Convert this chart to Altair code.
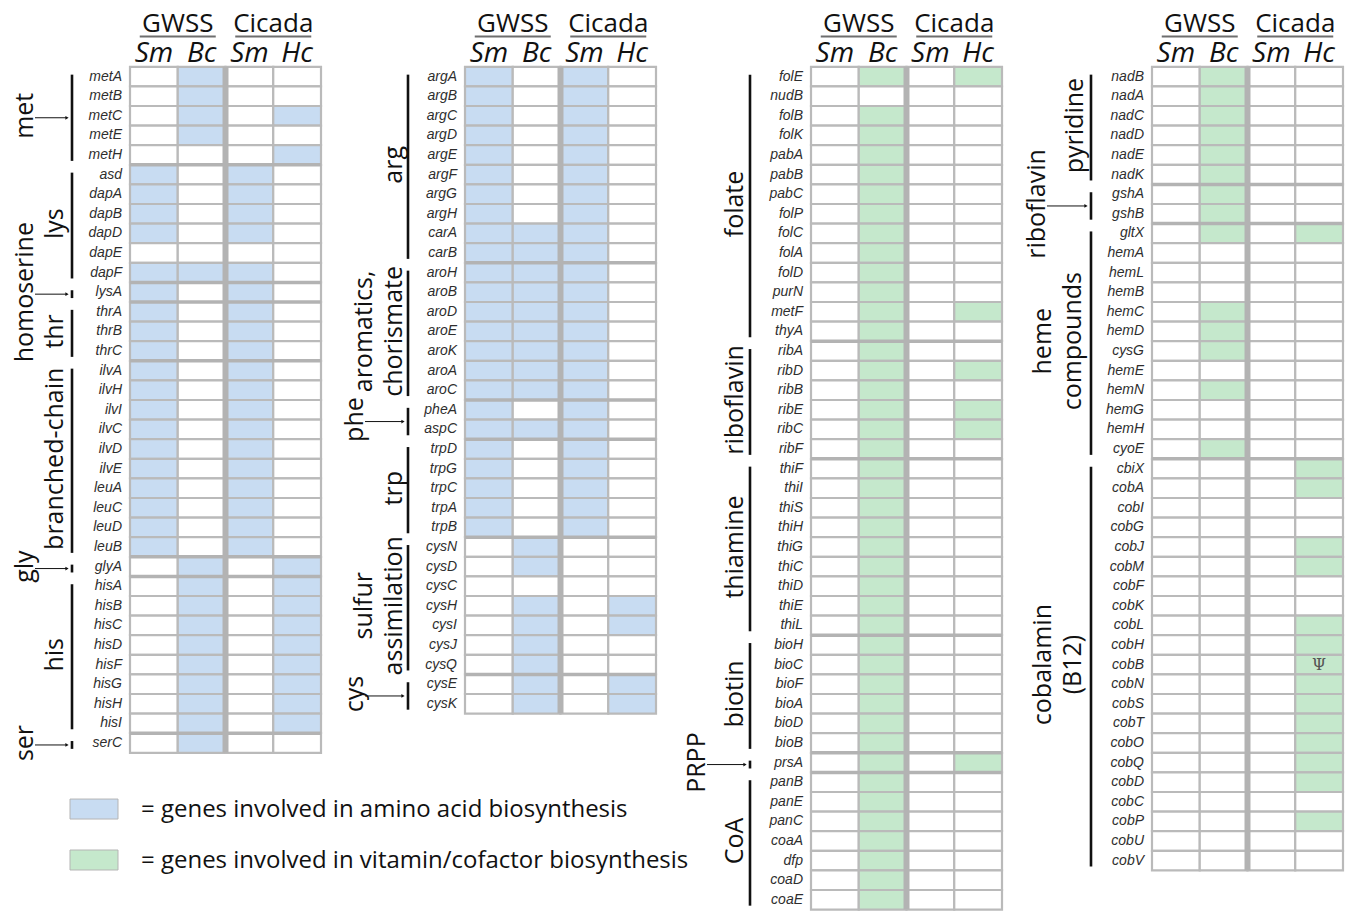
import altair as alt
import pandas as pd

# ---------------- data ----------------
species = ["GWSS", "Cicada"]
sub_labels = ["Sm", "Bc", "Sm", "Hc"]

# panel 1 : amino acids
p1_genes = ["metA", "metB", "metC", "metE", "metH", "asd", "dapA", "dapB", "dapD", "dapE",
            "dapF", "lysA", "thrA", "thrB", "thrC", "ilvA", "ilvH", "ilvI", "ilvC", "ilvD",
            "ilvE", "leuA", "leuC", "leuD", "leuB", "glyA", "hisA", "hisB", "hisC", "hisD",
            "hisF", "hisG", "hisH", "hisI", "serC"]
p1_presence = ["0100", "0100", "0101", "0100", "0001", "1010", "1010", "1010", "1010", "0000",
               "1110", "1010", "1010", "1010", "1010", "1010", "1010", "1010", "1010", "1010",
               "1010", "1010", "1010", "1010", "1010", "0101", "0101", "0101", "0101", "0101",
               "0101", "0101", "0101", "0101", "0100"]
p1_group_labels = [["met"], ["lys"], ["homoserine"], ["thr"], ["branched-chain"], ["gly"], ["his"], ["ser"]]
p1_group_sizes = [5, 6, 1, 3, 10, 1, 8, 1]
p1_group_arrow = [True, False, True, False, False, True, False, True]

# panel 2 : amino acids
p2_genes = ["argA", "argB", "argC", "argD", "argE", "argF", "argG", "argH", "carA", "carB",
            "aroH", "aroB", "aroD", "aroE", "aroK", "aroA", "aroC", "pheA", "aspC", "trpD",
            "trpG", "trpC", "trpA", "trpB", "cysN", "cysD", "cysC", "cysH", "cysI", "cysJ",
            "cysQ", "cysE", "cysK"]
p2_presence = ["1010", "1010", "1010", "1010", "1010", "1010", "1010", "1010", "1110", "1110",
               "1110", "1110", "1110", "1110", "1110", "1110", "1110", "1010", "1110", "1010",
               "1010", "1010", "1010", "1010", "0100", "0100", "0000", "0101", "0101", "0100",
               "0100", "0101", "0101"]
p2_group_labels = [["arg"], ["aromatics,", "chorismate"], ["phe"], ["trp"], ["sulfur", "assimilation"], ["cys"]]
p2_group_sizes = [10, 7, 2, 5, 7, 2]
p2_group_arrow = [False, False, True, False, False, True]

# panel 3 : vitamins / cofactors
p3_genes = ["folE", "nudB", "folB", "folK", "pabA", "pabB", "pabC", "folP", "folC", "folA",
            "folD", "purN", "metF", "thyA", "ribA", "ribD", "ribB", "ribE", "ribC", "ribF",
            "thiF", "thiI", "thiS", "thiH", "thiG", "thiC", "thiD", "thiE", "thiL", "bioH",
            "bioC", "bioF", "bioA", "bioD", "bioB", "prsA", "panB", "panE", "panC", "coaA",
            "dfp", "coaD", "coaE"]
p3_presence = ["0101", "0000", "0100", "0100", "0100", "0100", "0100", "0100", "0100", "0100",
               "0100", "0100", "0101", "0100", "0100", "0101", "0100", "0101", "0101", "0100",
               "0100", "0100", "0100", "0100", "0100", "0100", "0100", "0100", "0100", "0100",
               "0100", "0100", "0100", "0100", "0100", "0101", "0100", "0100", "0100", "0100",
               "0100", "0100", "0100"]
p3_group_labels = [["folate"], ["riboflavin"], ["thiamine"], ["biotin"], ["PRPP"], ["CoA"]]
p3_group_sizes = [14, 6, 9, 6, 1, 7]
p3_group_arrow = [False, False, False, False, True, False]

# panel 4 : vitamins / cofactors
p4_genes = ["nadB", "nadA", "nadC", "nadD", "nadE", "nadK", "gshA", "gshB", "gltX", "hemA",
            "hemL", "hemB", "hemC", "hemD", "cysG", "hemE", "hemN", "hemG", "hemH", "cyoE",
            "cbiX", "cobA", "cobI", "cobG", "cobJ", "cobM", "cobF", "cobK", "cobL", "cobH",
            "cobB", "cobN", "cobS", "cobT", "cobO", "cobQ", "cobD", "cobC", "cobP", "cobU",
            "cobV"]
p4_presence = ["0100", "0100", "0100", "0100", "0100", "0100", "0100", "0100", "0101", "0000",
               "0000", "0000", "0100", "0100", "0100", "0000", "0100", "0000", "0000", "0100",
               "0001", "0001", "0000", "0000", "0001", "0001", "0000", "0000", "0001", "0001",
               "0001", "0001", "0001", "0001", "0001", "0001", "0001", "0000", "0001", "0000",
               "0000"]
p4_group_labels = [["pyridine"], ["riboflavin"], ["heme", "compounds"], ["cobalamin", "(B12)"]]
p4_group_sizes = [6, 2, 12, 21]
p4_group_arrow = [False, True, False, False]
p4_notes = [("cobB", 3, "\u03a8")]

legend_kinds = ["amino", "vitamin"]
legend_texts = ["= genes involved in amino acid biosynthesis",
                "= genes involved in vitamin/cofactor biosynthesis"]

# ---------------- layout / style ----------------
COLW = 191 / 4.0
Y_DOMAIN = [-3, 43]
HEIGHT = 46 * 19.6
FILL_DOMAIN = ["none", "amino", "vitamin"]
FILL_RANGE = ["#ffffff", "#c8dcf2", "#c5e8cc"]
GRID = "#bababa"
SEP = "#b3b3b3"
LABEL_FONT = "Open Sans"

panels = [
    dict(genes=p1_genes, presence=p1_presence, labels=p1_group_labels, sizes=p1_group_sizes,
         arrow=p1_group_arrow, kind="amino", L=122, W=332, bx=-58, side=[-75], side2=[-104, -75],
         arrowx=-105, notes=[], legend=True),
    dict(genes=p2_genes, presence=p2_presence, labels=p2_group_labels, sizes=p2_group_sizes,
         arrow=p2_group_arrow, kind="amino", L=125, W=340, bx=-57, side=[-71], side2=[-101, -71],
         arrowx=-110, notes=[], legend=False),
    dict(genes=p3_genes, presence=p3_presence, labels=p3_group_labels, sizes=p3_group_sizes,
         arrow=p3_group_arrow, kind="vitamin", L=131, W=335, bx=-61, side=[-76], side2=[-106, -76],
         arrowx=-114, notes=[], legend=False),
    dict(genes=p4_genes, presence=p4_presence, labels=p4_group_labels, sizes=p4_group_sizes,
         arrow=p4_group_arrow, kind="vitamin", L=137, W=330, bx=-61, side=[-77], side2=[-109, -79],
         arrowx=-115, notes=p4_notes, legend=False),
]


def make_panel(p):
    xs = alt.Scale(domain=[-p["L"], p["W"] - p["L"]], nice=False, zero=False)
    ys = alt.Scale(domain=Y_DOMAIN, reverse=True, nice=False, zero=False)

    def X(f):
        return alt.X(f, type="quantitative", scale=xs, axis=None)

    def Y(f):
        return alt.Y(f, type="quantitative", scale=ys, axis=None)

    n = len(p["genes"])
    # cells
    cell_rows = []
    for r, (g, pres) in enumerate(zip(p["genes"], p["presence"])):
        for c, ch in enumerate(pres):
            cell_rows.append(dict(gene=g, x0=c * COLW, x1=(c + 1) * COLW, y0=r, y1=r + 1,
                                  kind=p["kind"] if ch == "1" else "none"))
    cells = alt.Chart(pd.DataFrame(cell_rows)).mark_rect(stroke=GRID, strokeWidth=2.2).encode(
        x=X("x0"), x2=alt.X2("x1"), y=Y("y0"), y2=alt.Y2("y1"),
        fill=alt.Fill("kind:N", scale=alt.Scale(domain=FILL_DOMAIN, range=FILL_RANGE), legend=None))

    # gene labels
    gl = pd.DataFrame(dict(gene=p["genes"], x=[-8] * n, y=[r + 0.5 for r in range(n)]))
    gene_text = alt.Chart(gl).mark_text(align="right", baseline="middle", font="Liberation Sans",
                                        fontStyle="italic", fontSize=14, color="#2e2e2e").encode(
        x=X("x"), y=Y("y"), text="gene:N")

    # group boundaries, brackets, labels, arrows
    bounds, brackets, glabels, arrows = [], [], [], []
    start = 0
    for lab, size, arr in zip(p["labels"], p["sizes"], p["arrow"]):
        end = start + size
        if end < n:
            bounds.append(dict(x0=0, x1=4 * COLW, y=end))
        b0, b1 = start + 0.4, end - 0.2
        brackets.append(dict(x=p["bx"], y0=b0, y1=b1))
        mid = (start + end) / 2.0
        if arr:
            glabels.append(dict(x=p["arrowx"], y=mid, t=lab[0]))
            ay = (b0 + b1) / 2.0
            arrows.append(dict(x0=p["arrowx"] + 10, x1=p["bx"] - 5, y=ay))
        elif len(lab) == 1:
            glabels.append(dict(x=p["side"][0], y=mid, t=lab[0]))
        else:
            for li, t in enumerate(lab):
                glabels.append(dict(x=p["side2"][li], y=mid, t=t))
        start = end

    layers = [cells]
    if bounds:
        layers.append(alt.Chart(pd.DataFrame(bounds)).mark_rule(color=SEP, strokeWidth=3.5).encode(
            x=X("x0"), x2=alt.X2("x1"), y=Y("y")))
    sep = pd.DataFrame([dict(x=2 * COLW, y0=0, y1=n)])
    layers.append(alt.Chart(sep).mark_rule(color=SEP, strokeWidth=6).encode(
        x=X("x"), y=Y("y0"), y2=alt.Y2("y1")))
    layers.append(gene_text)
    layers.append(alt.Chart(pd.DataFrame(brackets)).mark_rule(color="#111111", strokeWidth=2.6).encode(
        x=X("x"), y=Y("y0"), y2=alt.Y2("y1")))
    layers.append(alt.Chart(pd.DataFrame(glabels)).mark_text(
        angle=270, align="center", baseline="middle", font=LABEL_FONT, fontSize=25,
        color="#111111").encode(x=X("x"), y=Y("y"), text="t:N"))
    if arrows:
        adf = pd.DataFrame(arrows)
        layers.append(alt.Chart(adf).mark_rule(color="#111111", strokeWidth=1).encode(
            x=X("x0"), x2=alt.X2("x1"), y=Y("y")))
        layers.append(alt.Chart(adf).mark_point(shape="triangle-right", filled=True, size=14,
                                                color="#111111", opacity=1).encode(
            x=X("x1"), y=Y("y")))

    # headers
    sp = pd.DataFrame(dict(t=species, x=[1 * COLW, 3 * COLW], y=[-1.8, -1.8]))
    layers.append(alt.Chart(sp).mark_text(align="center", baseline="alphabetic", font=LABEL_FONT,
                                          fontSize=26, color="#111111").encode(
        x=X("x"), y=Y("y"), text="t:N"))
    ul = pd.DataFrame(dict(ux0=[1 * COLW - 38, 3 * COLW - 38], ux1=[1 * COLW + 38, 3 * COLW + 38],
                           uy=[-1.55, -1.55]))
    layers.append(alt.Chart(ul).mark_rule(color="#6e6e6e", strokeWidth=2).encode(
        x=X("ux0"), x2=alt.X2("ux1"), y=Y("uy")))
    sub = pd.DataFrame(dict(t=sub_labels, x=[(c + 0.5) * COLW for c in range(4)], y=[-0.24] * 4))
    layers.append(alt.Chart(sub).mark_text(align="center", baseline="alphabetic", font=LABEL_FONT,
                                           fontStyle="italic", fontSize=28, color="#111111").encode(
        x=X("x"), y=Y("y"), text="t:N"))

    if p["notes"]:
        notes = []
        for g, c, t in p["notes"]:
            r = p["genes"].index(g)
            notes.append(dict(x=(c + 0.5) * COLW, y=r + 0.5, t=t))
        layers.append(alt.Chart(pd.DataFrame(notes)).mark_text(
            align="center", baseline="middle", font="DejaVu Serif", fontSize=16,
            color="#555555").encode(x=X("x"), y=Y("y"), text="t:N"))

    if p["legend"]:
        lg = pd.DataFrame(dict(kind=legend_kinds, t=legend_texts,
                               x0=[-60, -60], x1=[-12, -12], y0=[37.36, 39.96], y1=[38.38, 40.98],
                               tx=[11, 11], ty=[37.9, 40.5]))
        layers.append(alt.Chart(lg).mark_rect(stroke="#b5b5b5", strokeWidth=1).encode(
            x=X("x0"), x2=alt.X2("x1"), y=Y("y0"), y2=alt.Y2("y1"),
            fill=alt.Fill("kind:N", scale=alt.Scale(domain=FILL_DOMAIN, range=FILL_RANGE), legend=None)))
        layers.append(alt.Chart(lg).mark_text(align="left", baseline="middle", font=LABEL_FONT,
                                              fontSize=24, color="#111111").encode(
            x=X("tx"), y=Y("ty"), text="t:N"))

    return alt.layer(*layers).properties(width=p["W"], height=HEIGHT)


chart = alt.hconcat(*[make_panel(p) for p in panels], spacing=0, bounds="flush", padding=0)
chart = chart.configure_view(stroke=None)
chart.save("out.html", embed_options={"renderer": "svg", "actions": False})
